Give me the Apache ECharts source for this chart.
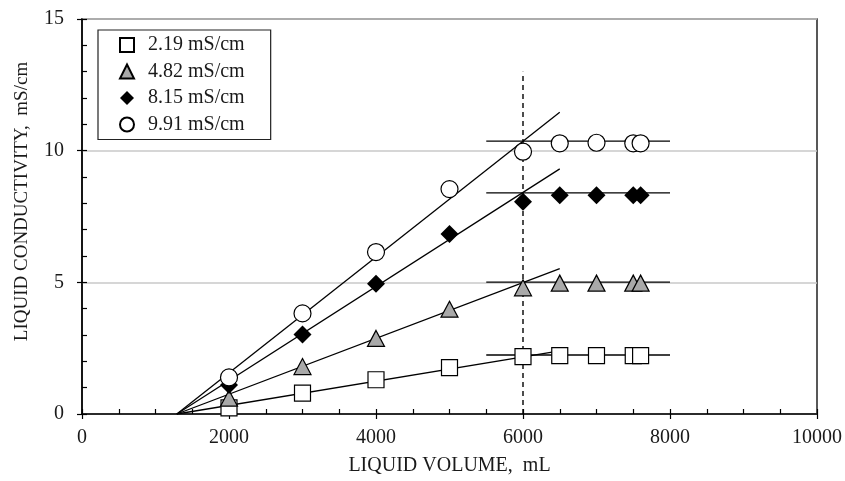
<!DOCTYPE html>
<html>
<head>
<meta charset="utf-8">
<script src="https://cdn.jsdelivr.net/npm/echarts@6/dist/echarts.min.js"></script>
<style>html,body{margin:0;padding:0;background:#fff}#c{width:845px;height:481px}</style>
</head>
<body>
<div id="c"></div>
<script>
// ---- data ----
const seriesNames = ['2.19 mS/cm', '4.82 mS/cm', '8.15 mS/cm', '9.91 mS/cm'];
const volumes = [2000, 3000, 4000, 5000, 6000, 6500, 7000, 7500, 7600];
const cond219 = [0.23, 0.79, 1.30, 1.76, 2.18, 2.22, 2.22, 2.22, 2.22];
const cond482 = [0.60, 1.80, 2.87, 3.98, 4.79, 4.97, 4.97, 4.97, 4.97];
const cond815 = [1.10, 3.02, 4.95, 6.84, 8.06, 8.31, 8.31, 8.31, 8.31];
const cond991 = [1.39, 3.82, 6.15, 8.54, 9.96, 10.28, 10.30, 10.28, 10.28];
// fitted rising lines: start and end volume, end conductivity
const fitX = [1290, 6500];
const fitEnd = [2.40, 5.52, 9.31, 11.46];
// plateau lines
const plateauX = [5500, 8000];
const plateauY = [2.24, 5.01, 8.40, 10.36];
// vertical dashed marker
const markerX = 6000;
const markerTop = 13;
const xTicks = [0, 2000, 4000, 6000, 8000, 10000];
const yTicks = [0, 5, 10, 15];

const font = 'Liberation Serif';
const txt = '#1a1a1a';
const allCond = [cond219, cond482, cond815, cond991];
const symbols = ['rect', 'triangle', 'diamond', 'circle'];
const fills = ['#ffffff', '#a9a9a9', '#000000', '#ffffff'];
const sizes = [[16,16], [17,16], [18,18], [17,17]];

const series = [];
for (let i = 0; i < 4; i++) {
  series.push({
    type: 'line', silent: true, symbol: 'none', z: 2,
    data: [[fitX[0], 0], [fitX[1], fitEnd[i]]],
    lineStyle: { color: '#000', width: 1.3 }
  });
  series.push({
    type: 'line', silent: true, symbol: 'none', z: 2,
    data: [[plateauX[0], plateauY[i]], [plateauX[1], plateauY[i]]],
    lineStyle: { color: '#000', width: 1.3 }
  });
}
series.push({
  type: 'line', silent: true, symbol: 'none', z: 2,
  data: [[markerX, 0], [markerX, markerTop]],
  lineStyle: { color: '#000', width: 1.4, type: [5, 4] }
});
for (let i = 0; i < 4; i++) {
  series.push({
    name: seriesNames[i], type: 'scatter', z: 5,
    symbol: symbols[i], symbolSize: sizes[i],
    data: volumes.map((v, k) => [v, allCond[i][k]]),
    itemStyle: { color: fills[i], borderColor: '#000', borderWidth: i === 2 ? 0 : 1.2, opacity: 1 }
  });
}

const chart = echarts.init(document.getElementById('c'), null, { renderer: 'canvas' });
chart.setOption({
  animation: false,
  backgroundColor: '#fff',
  textStyle: { fontFamily: font },
  grid: { left: 82, right: 28, top: 19, bottom: 65, show: true, borderColor: '#222', borderWidth: 1.5, backgroundColor: 'transparent' },
  legend: {
    data: seriesNames, orient: 'vertical', left: 98, top: 30,
    itemWidth: 14, itemHeight: 14, itemGap: 6.5,
    padding: [5, 26, 5, 21],
    borderColor: '#222', borderWidth: 1.2, backgroundColor: '#fff',
    textStyle: { fontFamily: font, fontSize: 20, color: txt, padding: [0, 0, 0, 9] }
  },
  xAxis: [{
    type: 'value', min: xTicks[0], max: xTicks[xTicks.length - 1], interval: 2000,
    name: 'LIQUID VOLUME,  mL', nameLocation: 'middle', nameGap: 42,
    nameTextStyle: { fontFamily: font, fontSize: 20, color: txt },
    axisLine: { show: true, onZero: false, lineStyle: { color: '#000', width: 1.5 } },
    axisTick: { show: true, inside: false, length: 5, lineStyle: { color: '#000', width: 1.2 } },
    axisLabel: { fontFamily: font, fontSize: 20, color: txt, margin: 14, formatter: v => String(v) },
    splitLine: { show: false }
  }, {
    type: 'value', position: 'bottom', min: xTicks[0], max: xTicks[xTicks.length - 1], interval: 2000,
    axisLine: { show: false },
    axisTick: { show: true, inside: true, length: 5, lineStyle: { color: '#000', width: 1.2 } },
    minorTick: { show: true, splitNumber: 4, length: 5, lineStyle: { color: '#000', width: 1.2 } },
    axisLabel: { show: false }, splitLine: { show: false }
  }],
  yAxis: [{
    type: 'value', min: yTicks[0], max: yTicks[yTicks.length - 1], interval: 5,
    name: 'LIQUID CONDUCTIVITY,  mS/cm', nameLocation: 'middle', nameGap: 50,
    nameTextStyle: { fontFamily: font, fontSize: 19, color: txt, padding: [0, 0, 0, 30] },
    axisLine: { show: true, onZero: false, lineStyle: { color: '#000', width: 1.5 } },
    axisTick: { show: true, inside: false, length: 5, lineStyle: { color: '#000', width: 1.2 } },
    axisLabel: { fontFamily: font, fontSize: 20, color: txt, margin: 18 },
    splitLine: { show: true, lineStyle: { color: '#c8c8c8', width: 1.5 } }
  }, {
    type: 'value', position: 'left', min: yTicks[0], max: yTicks[yTicks.length - 1], interval: 5,
    axisLine: { show: false },
    axisTick: { show: true, inside: true, length: 5, lineStyle: { color: '#000', width: 1.2 } },
    minorTick: { show: true, splitNumber: 5, length: 5, lineStyle: { color: '#000', width: 1.2 } },
    axisLabel: { show: false }, splitLine: { show: false }
  }],
  series: series
});
</script>
</body>
</html>
